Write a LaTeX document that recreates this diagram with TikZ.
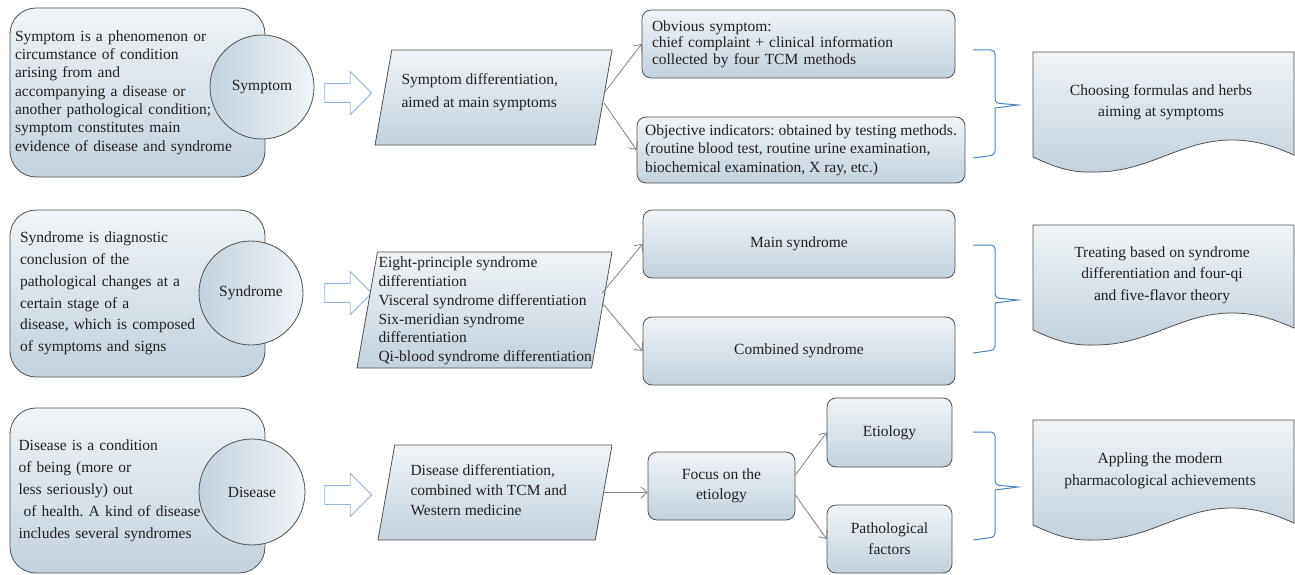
\documentclass[tikz,border=0pt]{standalone}
\usepackage{fontspec}
\setmainfont{Liberation Serif}
\usetikzlibrary{shapes.geometric,shapes.arrows,arrows.meta}
\frenchspacing

\definecolor{boxtop}{HTML}{EFF4F7}
\definecolor{boxbot}{HTML}{C3D2DE}
\definecolor{boxline}{HTML}{505050}
\definecolor{linkgray}{HTML}{808080}
\definecolor{bracebl}{HTML}{4F81BD}
\definecolor{arrowbl}{HTML}{95B3D7}
\definecolor{ink}{HTML}{231F20}

\begin{document}
\begin{tikzpicture}[x=1pt,y=-1pt,
  every node/.style={font=\fontsize{15.5}{18.6}\selectfont, text=ink},
  grad/.style={draw=boxline, line width=0.8pt, top color=boxtop, bottom color=boxbot},
  bigbox/.style={grad, rounded corners=26pt, minimum width=255pt, align=left, inner sep=0pt},
  circ/.style={circle, draw=boxline, line width=0.8pt, left color=boxbot, right color=boxtop, minimum size=104pt, inner sep=0pt},
  para/.style={grad, trapezium, trapezium left angle=80, trapezium right angle=100, trapezium stretches body, inner xsep=0pt},
  box/.style={grad, rounded corners=9pt, inner sep=0pt, align=center},
  doctext/.style={align=center, font=\fontsize{15.5}{21.5}\selectfont},
  link/.style={draw=linkgray, line width=0.8pt, -{Straight Barb[length=6pt,width=11pt]}},
  fat/.style={single arrow, draw=arrowbl, line width=0.8pt, fill=white, minimum height=47pt, single arrow head extend=12pt, inner xsep=0pt, inner ysep=9pt},
  brace/.style={draw=bracebl, line width=1pt, rounded corners=4pt}]
\useasboundingbox (0,0) rectangle (1295,575);

% documents on the right
\foreach \t in {52,225,420}{
\draw[grad] (1033,\t) -- (1294,\t) -- (1294,\t+103) .. controls (1280,\t+97) and (1260,\t+88) .. (1232,\t+88) .. controls (1180,\t+88) and (1150,\t+120) .. (1095,\t+120) .. controls (1070,\t+121) and (1055,\t+115) .. (1033,\t+105) -- cycle;}
% braces
\foreach \t in {50,245,432}{
\draw[brace] (973,\t) -- (995,\t) -- (995,\t+53) [sharp corners]-- (1018,\t+55) -- (995,\t+58) [rounded corners=4pt]-- (995,\t+105) -- (973,\t+108);}

% row 1
\node[bigbox, text width=245pt, minimum height=169pt, font=\fontsize{15.5}{18.3}\selectfont] (sym) at (137.5,92.5) {Symptom is a phenomenon or\\circumstance of condition\\arising from and\\accompanying a disease or\\another pathological condition;\\symptom constitutes main\\evidence of disease and syndrome};
\node[circ] (symc) at (262,87) {Symptom};
\node[fat] (a1) at (343.5,93) {};
\node[para, minimum width=237pt, inner ysep=47.5pt] (p1) at (493.5,97.5) {};
\node[align=left, anchor=west, font=\fontsize{15.5}{23}\selectfont] (p1t) at (398,92) {Symptom differentiation,\\aimed at main symptoms};
\node[box, minimum width=313pt, minimum height=68pt, text width=293pt, align=left, font=\fontsize{15.5}{16.5}\selectfont] (obv) at (798.5,44) {Obvious symptom:\\chief complaint + clinical information\\collected by four TCM methods};
\node[box, minimum width=328pt, minimum height=66pt, align=left, font=\fontsize{15.5}{18.5}\selectfont] (obj) at (801,150) {Objective indicators: obtained by testing methods.\\(routine blood test, routine urine examination,\\biochemical examination, X ray, etc.)};
\node[doctext] (d1) at (1161,102) {Choosing formulas and herbs\\aiming at symptoms};

% row 2
\node[bigbox, text width=235pt, minimum height=167pt, font=\fontsize{15.5}{21.7}\selectfont] (syn) at (137.5,293.5) {Syndrome is diagnostic\\conclusion of the\\pathological changes at a\\certain stage of a\\disease, which is composed\\of symptoms and signs};
\node[circ] (sync) at (251,293) {Syndrome};
\node[fat] (a2) at (343.5,293) {};
\node[para, minimum width=255pt, inner ysep=58pt] (p2) at (484.5,310) {};
\node[align=left, anchor=west, font=\fontsize{15.5}{18.8}\selectfont] (p2t) at (375,311) {Eight-principle syndrome\\differentiation\\Visceral syndrome differentiation\\Six-meridian syndrome\\differentiation\\Qi-blood syndrome differentiation};
\node[box, minimum width=312pt, minimum height=68pt] (mainsyn) at (799,244) {Main syndrome};
\node[box, minimum width=312pt, minimum height=68pt] (combsyn) at (799,351) {Combined syndrome};
\node[doctext] (d2) at (1162,275) {Treating based on syndrome\\differentiation and four-qi\\and five-flavor theory};

% row 3
\node[bigbox, text width=238pt, minimum height=165pt, font=\fontsize{15.5}{22}\selectfont] (dis) at (137.5,490.5) {Disease is a condition\\of being (more or\\less seriously) out\\\ of health. A kind of disease\\includes several syndromes};
\node[circ, minimum size=106pt] (disc) at (252,492) {Disease};
\node[fat] (a3) at (343.5,495) {};
\node[para, minimum width=234pt, inner ysep=47.5pt] (p3) at (495,492.5) {};
\node[align=left, anchor=west, font=\fontsize{15.5}{20}\selectfont] (p3t) at (407,490) {Disease differentiation,\\combined with TCM and\\Western medicine};
\node[box, minimum width=147pt, minimum height=68pt, font=\fontsize{15.5}{20.5}\selectfont] (focus) at (721.5,486) {Focus on the\\etiology};
\node[box, minimum width=125pt, minimum height=69pt] (etio) at (889.5,432.5) {Etiology};
\node[box, minimum width=125pt, minimum height=68pt, font=\fontsize{15.5}{21}\selectfont] (patho) at (889.5,539) {Pathological\\factors};
\node[doctext] (d3) at (1160,471) {Appling the modern\\pharmacological achievements};

% connectors
\draw[link] ([yshift=4.5pt]p1.east) -- (obv.west);
\draw[link] ([yshift=-5.5pt]p1.east) -- (obj.west);
\draw[link] ([yshift=17pt]p2.east) -- (mainsyn.west);
\draw[link] ([yshift=7pt]p2.east) -- (combsyn.west);
\draw[link] (p3.east) -- (p3.east -| focus.west);
\draw[link] ([yshift=11pt]focus.east) -- (etio.west);
\draw[link] ([yshift=-9pt]focus.east) -- (patho.west);
\end{tikzpicture}
\end{document}
